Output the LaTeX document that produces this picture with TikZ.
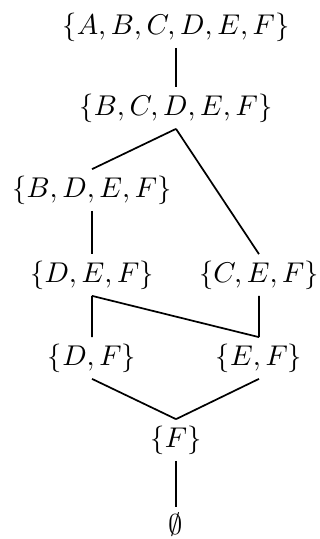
\documentclass[tikz,border=0pt]{standalone}
\usepackage{amsfonts,amssymb,amsmath}
\usepackage{tikz}
\usetikzlibrary{positioning}
\tikzset{elem/.style={inner sep=2pt,font=\fontsize{10.3pt}{12pt}\selectfont}}

\begin{document}
\begin{tikzpicture}[x=0.35pt,y=-0.35pt,semithick]
\useasboundingbox (0,0) rectangle (320,539);
\node[elem] (abcdef) at (176,27) {$\{A,B,C,D,E,F\}$};
\node[elem] (bcdef) at (176,108) {$\{B,C,D,E,F\}$};
\node[elem] (bdef) at (92,190) {$\{B,D,E,F\}$};
\node[elem] (def) at (92,275) {$\{D,E,F\}$};
\node[elem] (cef) at (259,275) {$\{C,E,F\}$};
\node[elem] (df) at (92,358) {$\{D,F\}$};
\node[elem] (ef) at (259,358) {$\{E,F\}$};
\node[elem] (f) at (176,440) {$\{F\}$};
\node[elem] (empty) at (176,525) {$\emptyset$};
\draw (abcdef.south)--(bcdef.north);
\draw (bcdef.south)--(bdef.north)
(bcdef.south)--(cef.north);
\draw (bdef.south)--(def.north);
\draw (def.south)--(df.north)
(def.south)--(ef.north)
(cef.south)--(ef.north);
\draw (df.south)--(f.north)
(ef.south)--(f.north);
\draw (f.south)--(empty.north);
\end{tikzpicture}
\end{document}
